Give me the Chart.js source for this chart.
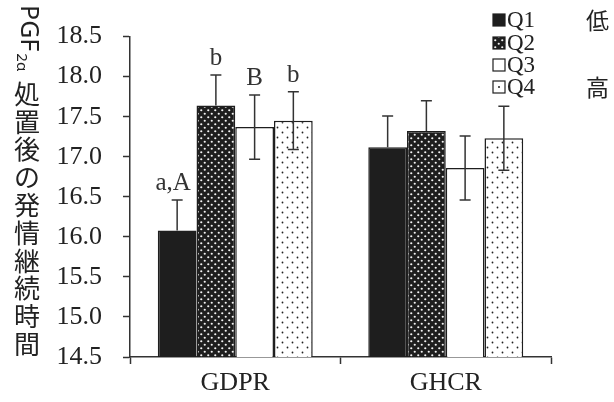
<!DOCTYPE html>
<html>
<head>
<meta charset="utf-8">
<script src="https://cdn.jsdelivr.net/npm/chart.js@4"></script>
<style>
  body { margin: 0; background: #fff; }
  #wrap { width: 614px; height: 402px; }
</style>
</head>
<body>
<div id="wrap"><canvas id="chart" width="614" height="402"></canvas></div>
<script>
// Data
const categories = ['GDPR', 'GHCR'];
const seriesNames = ['Q1', 'Q2', 'Q3', 'Q4'];
const q1Values = [16.08, 17.12];
const q2Values = [17.64, 17.32];
const q3Values = [17.37, 16.86];
const q4Values = [17.45, 17.23];
const q1Err = [0.38, 0.39];
const q2Err = [0.38, 0.38];
const q3Err = [0.40, 0.40];
const q4Err = [0.36, 0.40];
const q1Marks = ['a,A', ''];
const q2Marks = ['b', ''];
const q3Marks = ['B', ''];
const q4Marks = ['b', ''];
const legendNotes = ['低', '', '', '高'];
const yMin = 14.5, yMax = 18.5, yStep = 0.5;
const titleLatin = 'PGF';
const titleSub = '2α';
const titleRest = '処置後の発情継続時間';

const INK = '#1e1e1e';
const SERIF = "'Liberation Serif', 'Times New Roman', serif";

// Fill patterns
function dotPattern(bg, dot, size, r) {
    const c = document.createElement('canvas');
    c.width = size; c.height = size;
    const g = c.getContext('2d');
    g.fillStyle = bg;
    g.fillRect(0, 0, size, size);
    g.fillStyle = dot;
    [[size * 0.25, size * 0.25], [size * 0.75, size * 0.75]].forEach(([x, y]) => {
        g.beginPath();
        g.arc(x, y, r, 0, Math.PI * 2);
        g.fill();
    });
    return g.createPattern(c, 'repeat');
}

const fills = [
    INK,
    dotPattern(INK, '#f4f4f4', 7, 1.1),
    '#ffffff',
    dotPattern('#ffffff', '#222', 10, 0.9)
];

const values = [q1Values, q2Values, q3Values, q4Values];
const errors = [q1Err, q2Err, q3Err, q4Err];
const marks = [q1Marks, q2Marks, q3Marks, q4Marks];
const showLower = [false, false, true, true];

// Error bars and significance letters
const errorBarPlugin = {
    id: 'errorBars',
    afterDatasetsDraw(chart) {
        const ctx = chart.ctx;
        const y = chart.scales.y;
        ctx.save();
        ctx.strokeStyle = '#333';
        ctx.lineWidth = 1.5;
        chart.data.datasets.forEach((ds, i) => {
            chart.getDatasetMeta(i).data.forEach((bar, j) => {
                const v = values[i][j], e = errors[i][j];
                const top = y.getPixelForValue(v + e);
                const bot = showLower[i] ? y.getPixelForValue(v - e) : bar.y;
                ctx.beginPath();
                ctx.moveTo(bar.x, bot);
                ctx.lineTo(bar.x, top);
                ctx.moveTo(bar.x - 5.5, top);
                ctx.lineTo(bar.x + 5.5, top);
                if (showLower[i]) {
                    ctx.moveTo(bar.x - 5.5, bot);
                    ctx.lineTo(bar.x + 5.5, bot);
                }
                ctx.stroke();
                if (marks[i][j]) {
                    ctx.fillStyle = '#333';
                    ctx.font = '25px ' + SERIF;
                    ctx.textAlign = 'center';
                    ctx.textBaseline = 'alphabetic';
                    ctx.fillText(marks[i][j], bar.x - (marks[i][j].length > 1 ? 4 : 0), top - 10);
                }
            });
        });
        ctx.restore();
    }
};

// Legend in the top right corner plus the vertical y title
const extrasPlugin = {
    id: 'extras',
    afterDraw(chart) {
        const ctx = chart.ctx;
        ctx.save();
        // legend
        const rowY = [20, 43, 65, 87];
        seriesNames.forEach((name, i) => {
            const cy = rowY[i];
            ctx.fillStyle = i === 3 ? '#fff' : fills[i];
            ctx.fillRect(493, cy - 6, 12, 12);
            ctx.strokeStyle = INK;
            ctx.lineWidth = 1.2;
            ctx.strokeRect(493, cy - 6, 12, 12);
            if (i === 3) {
                ctx.fillStyle = '#222';
                ctx.beginPath();
                ctx.arc(499, cy, 1, 0, Math.PI * 2);
                ctx.fill();
            }
            ctx.fillStyle = '#222';
            ctx.font = '23px ' + SERIF;
            ctx.textAlign = 'left';
            ctx.textBaseline = 'middle';
            ctx.fillText(name, 507, cy + 1);
            if (legendNotes[i]) {
                ctx.font = "23px 'Noto Sans CJK JP'";
                ctx.fillText(legendNotes[i], 586, cy);
            }
        });

        // y title, written vertically
        ctx.fillStyle = '#222';
        ctx.save();
        ctx.translate(28, 5);
        ctx.rotate(Math.PI / 2);
        ctx.font = "25px 'Noto Sans'";
        ctx.textAlign = 'left';
        ctx.textBaseline = 'middle';
        ctx.fillText(titleLatin, 0, 0);
        const w = ctx.measureText(titleLatin).width;
        ctx.font = "15px 'Noto Sans'";
        ctx.fillText(titleSub, w + 2, 7);
        ctx.restore();
        ctx.font = "26px 'Noto Sans CJK JP'";
        ctx.textAlign = 'center';
        ctx.textBaseline = 'middle';
        const step = (344 - 94) / (titleRest.length - 1);
        [...titleRest].forEach((ch, k) => {
            ctx.fillText(ch, 27, 94 + k * step);
        });
        ctx.restore();
    }
};

const ctx = document.getElementById('chart').getContext('2d');
new Chart(ctx, {
    type: 'bar',
    data: {
        labels: categories,
        datasets: seriesNames.map((name, i) => ({
            label: name,
            data: values[i],
            backgroundColor: fills[i],
            borderColor: INK,
            borderWidth: 1.5,
            borderSkipped: 'bottom',
            categoryPercentage: 0.736,
            barPercentage: 1
        }))
    },
    options: {
        responsive: false,
        animation: false,
        layout: { padding: { left: 0, right: 63, top: 22, bottom: 0 } },
        plugins: {
            legend: { display: false },
            tooltip: { enabled: false }
        },
        scales: {
            x: {
                afterFit: (s) => { s.height = 45; },
                grid: { offset: true, drawOnChartArea: false, drawTicks: true, tickLength: 7, tickWidth: 1.5, tickColor: '#333' },
                border: { color: '#333', width: 1.5 },
                ticks: { color: '#222', font: { family: SERIF, size: 26 }, padding: 4 }
            },
            y: {
                min: yMin,
                max: yMax,
                afterFit: (s) => { s.width = 130; },
                grid: { drawOnChartArea: false, drawTicks: true, tickLength: 7, tickWidth: 1.5, tickColor: '#333' },
                border: { color: '#333', width: 1.5 },
                ticks: {
                    stepSize: yStep,
                    color: '#222',
                    padding: 21,
                    font: { family: SERIF, size: 26 },
                    callback: (v) => v.toFixed(1)
                }
            }
        }
    },
    plugins: [errorBarPlugin, extrasPlugin]
});
</script>
</body>
</html>
